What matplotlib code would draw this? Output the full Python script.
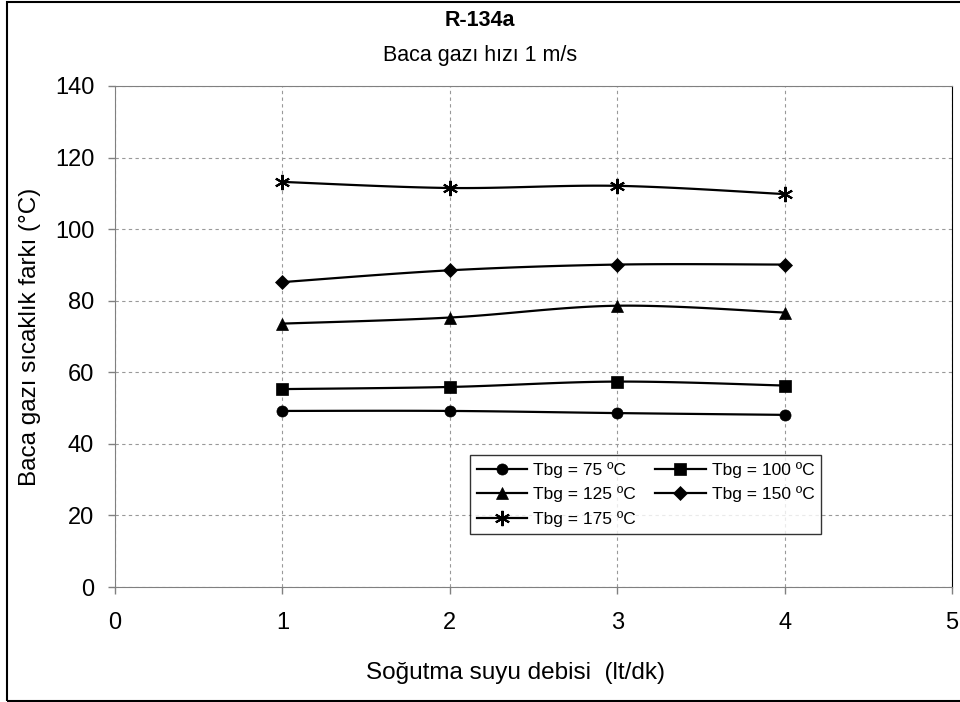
import numpy as np
import matplotlib
matplotlib.use('Agg')
import matplotlib.pyplot as plt
from matplotlib.patches import Rectangle

plt.rcParams['font.family'] = ['Liberation Sans', 'DejaVu Sans']

# Data
flow = [1, 2, 3, 4]
labels = ['Tbg = 75 ºC', 'Tbg = 100 ºC', 'Tbg = 125 ºC', 'Tbg = 150 ºC', 'Tbg = 175 ºC']
t75 = [49.2, 49.2, 48.6, 48.1]
t100 = [55.3, 55.9, 57.4, 56.3]
t125 = [73.6, 75.3, 78.6, 76.7]
t150 = [85.2, 88.5, 90.1, 90.1]
t175 = [113.2, 111.5, 112.1, 109.8]
series = [t75, t100, t125, t150, t175]
markers = ['o', 's', '^', 'D', (6, 2, 0)]
msizes = [8, 8, 9, 7, 11]


def smooth(x, y, n=30):
    """Excel-like smoothed line through the points (bezier segments)."""
    x = np.asarray(x, float)
    y = np.asarray(y, float)
    xs, ys = [x[0]], [y[0]]
    for i in range(len(x) - 1):
        p0 = np.array([x[i - 1], y[i - 1]]) if i > 0 else np.array([x[i], y[i]])
        p1 = np.array([x[i], y[i]])
        p2 = np.array([x[i + 1], y[i + 1]])
        p3 = np.array([x[i + 2], y[i + 2]]) if i + 2 < len(x) else p2
        c1 = p1 + (p2 - p0) / 6
        c2 = p2 - (p3 - p1) / 6
        t = np.linspace(0, 1, n)[1:, None]
        pts = ((1 - t) ** 3 * p1 + 3 * (1 - t) ** 2 * t * c1
               + 3 * (1 - t) * t ** 2 * c2 + t ** 3 * p2)
        xs.extend(pts[:, 0])
        ys.extend(pts[:, 1])
    return xs, ys


fig = plt.figure(figsize=(9.6, 7.02), dpi=100)
L, R, T, B = 115, 952, 86, 587
ax = fig.add_axes([L / 960, 1 - B / 702, (R - L) / 960, (B - T) / 702])

handles = []
for vals, lab, m, ms in zip(series, labels, markers, msizes):
    mew = 1.5 if m == (6, 2, 0) else 0.5
    sx, sy = smooth(flow, vals)
    ax.plot(sx, sy, color='black', lw=1.6, zorder=3)
    ax.plot(flow, vals, linestyle='none', marker=m, color='black',
            markersize=ms, markeredgewidth=mew, zorder=4)
    h, = ax.plot([], [], color='black', lw=1.6, marker=m, markersize=ms,
                 markeredgewidth=mew, label=lab)
    handles.append(h)

ax.set_xlim(0, 5)
ax.set_ylim(0, 140)
ax.set_xticks(range(0, 6))
ax.set_yticks(range(0, 141, 20))
ax.grid(True, color='#999999', linestyle=(0, (3, 3)), lw=0.8)
ax.tick_params(labelsize=17, direction='out', length=5, width=1,
               color='#808080')
ax.tick_params(axis='x', pad=13)
ax.tick_params(axis='y', pad=10)
for s in ['left', 'bottom', 'top']:
    ax.spines[s].set_color('#808080')
ax.spines['right'].set_color('black')

ax.set_xlabel('Soğutma suyu debisi  (lt/dk)', fontsize=17.5)
ax.xaxis.set_label_coords((515 - L) / (R - L), -(662 - B) / (B - T))
ax.set_ylabel('Baca gazı sıcaklık farkı (°C)', fontsize=17.5, labelpad=10)

fig.text(0.5, 1 - 21 / 702, 'R-134a', ha='center', va='center',
         fontsize=15.5, fontweight='bold')
fig.text(0.5, 1 - 56 / 702, 'Baca gazı hızı 1 m/s', ha='center', va='center',
         fontsize=15.5)

# legend is filled row by row in the reference
order = [0, 2, 4, 1, 3]
leg = ax.legend(handles=[handles[i] for i in order], ncol=2, loc='upper left',
                bbox_to_anchor=((470 - L) / (R - L), (B - 455) / (B - T)),
                borderaxespad=0, fontsize=12.5, frameon=True, fancybox=False,
                handlelength=2.9, columnspacing=1.1, handletextpad=0.35,
                borderpad=0.4, labelspacing=0.5)
leg.get_frame().set_edgecolor('black')
leg.get_frame().set_linewidth(1)

fig.patches.append(Rectangle((7 / 960, 1.5 / 702), 1.1, 699 / 702,
                             transform=fig.transFigure, fill=False,
                             edgecolor='black', lw=1.5))

fig.savefig('out.png', dpi=100)
